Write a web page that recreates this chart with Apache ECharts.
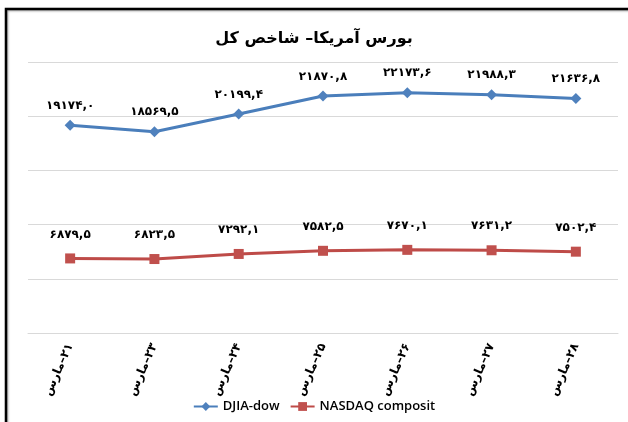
<!DOCTYPE html>
<html>
<head>
<meta charset="utf-8">
<script src="https://cdn.jsdelivr.net/npm/echarts@6/dist/echarts.min.js"></script>
<style>
  html, body { margin: 0; padding: 0; background: #fff; }
  #chart { width: 628px; height: 422px; }
</style>
</head>
<body>
<div id="chart"></div>
<script>
// data
var categories = ['۲۱–مارس', '۲۳–مارس', '۲۴–مارس', '۲۵–مارس', '۲۶–مارس', '۲۷–مارس', '۲۸–مارس']
var djiaValues = [19174.0, 18569.5, 20199.4, 21870.8, 22173.6, 21988.3, 21636.8]
var nasdaqValues = [6879.5, 6823.5, 7292.1, 7582.5, 7670.1, 7631.2, 7502.4]
var seriesNames = ['DJIA-dow', 'NASDAQ composit']
var titleText = 'بورس آمریکا– شاخص کل'

var faDigits = '۰۱۲۳۴۵۶۷۸۹'
function toFa(s) {
  return String(s).replace(/[0-9]/g, function(d) { return faDigits[+d] })
}
function valueLabel(p) {
  return toFa(p.value.toFixed(1).replace('.', ','))
}

var chart = echarts.init(document.getElementById('chart'))
chart.setOption({
  backgroundColor: '#fff',
  animation: false,
  title: {
    text: titleText,
    left: 'center',
    top: 26,
    textStyle: {
      fontFamily: 'DejaVu Sans',
      fontWeight: 'bold',
      fontSize: 16,
      color: '#000'
    }
  },
  graphic: [{
    type: 'rect',
    shape: { x: 6, y: 9, width: 700, height: 500 },
    style: { fill: null, stroke: '#000', lineWidth: 2.5, shadowColor: 'rgba(0,0,0,0.35)', shadowBlur: 2, shadowOffsetX: 1, shadowOffsetY: 1 },
    silent: true
  }],
  legend: {
    data: seriesNames,
    bottom: 4,
    left: 'center',
    itemWidth: 24,
    itemHeight: 11,
    itemGap: 10,
    textStyle: {
      fontFamily: 'Open Sans',
      fontWeight: 600,
      fontSize: 13,
      color: '#000'
    }
  },
  grid: {
    left: 28,
    right: 10,
    top: 62,
    bottom: 89
  },
  xAxis: {
    type: 'category',
    data: categories,
    axisLine: { lineStyle: { color: '#d9d9d9', width: 1 } },
    axisTick: { show: false },
    axisLabel: {
      rotate: 66,
      margin: 11,
      fontFamily: 'DejaVu Sans',
      fontWeight: 'bold',
      fontSize: 12,
      color: '#000',
      formatter: function(v) { return '\u200F' + v }
    }
  },
  yAxis: {
    type: 'value',
    min: 0,
    max: 25000,
    interval: 5000,
    axisLine: { show: false },
    axisTick: { show: false },
    axisLabel: { show: false },
    splitLine: { lineStyle: { color: '#d9d9d9', width: 1 } }
  },
  series: [{
    name: seriesNames[0],
    type: 'line',
    data: djiaValues,
    symbol: 'diamond',
    symbolSize: 11,
    lineStyle: { color: '#4a7ebb', width: 3 },
    itemStyle: { color: '#4f81bd' },
    label: {
      show: true,
      position: 'top',
      distance: 8,
      fontFamily: 'DejaVu Sans',
      fontWeight: 'bold',
      fontSize: 12,
      color: '#000',
      formatter: valueLabel
    }
  }, {
    name: seriesNames[1],
    type: 'line',
    data: nasdaqValues,
    symbol: 'rect',
    symbolSize: 10,
    lineStyle: { color: '#be4b48', width: 3 },
    itemStyle: { color: '#c0504d' },
    label: {
      show: true,
      position: 'top',
      distance: 13,
      fontFamily: 'DejaVu Sans',
      fontWeight: 'bold',
      fontSize: 12,
      color: '#000',
      formatter: valueLabel
    }
  }]
})
</script>
</body>
</html>
